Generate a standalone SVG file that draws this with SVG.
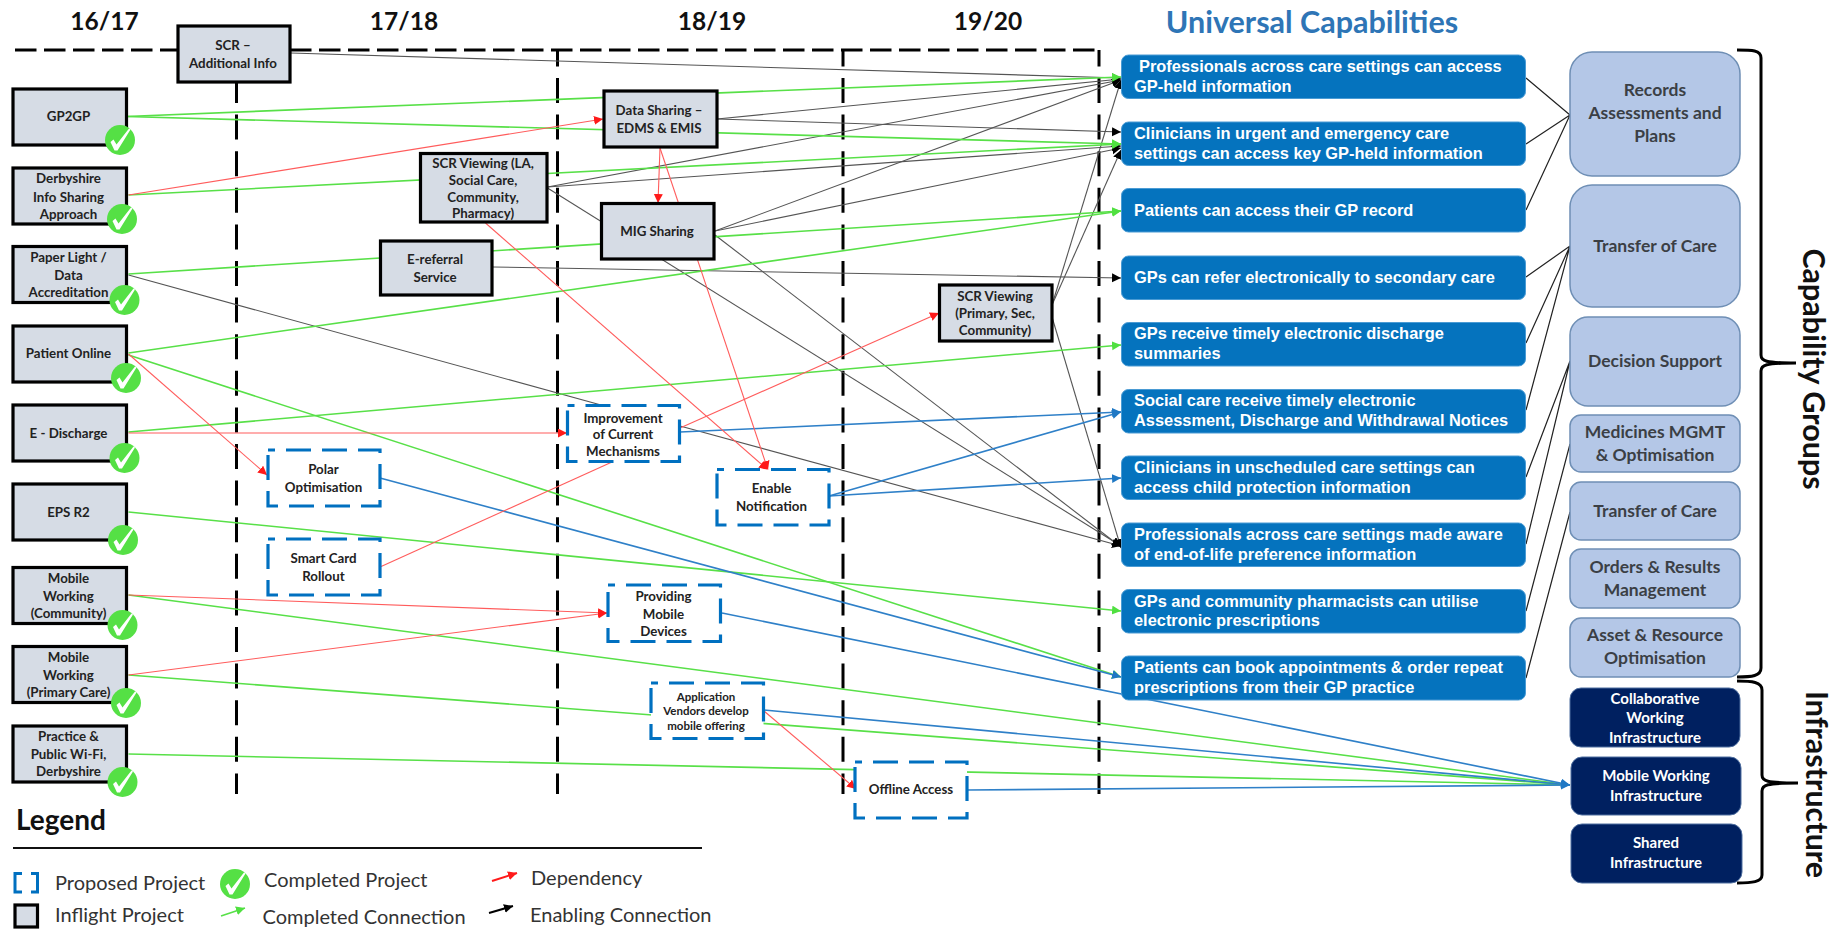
<svg xmlns="http://www.w3.org/2000/svg" width="1837" height="929" viewBox="0 0 1837 929">
<style>
text{font-family:Lato,"Liberation Sans",sans-serif;dominant-baseline:central}
.hd{font-size:24.500px;font-weight:700;fill:#111;text-anchor:middle}
.uc{font-size:30.500px;font-weight:700;fill:#2E75B6;text-anchor:middle}
.b{fill:#D6DCE5;stroke:#000;stroke-width:3.2}
.p{fill:#fff;stroke:#0070C0;stroke-width:3.2;stroke-dasharray:25 11;stroke-dashoffset:18}
.t{font-size:13.300px;font-weight:700;fill:#222;text-anchor:middle}
.u{fill:#0573BE;stroke:#4A9BD4;stroke-width:1}
.ut{font-family:"Liberation Sans",Arial,sans-serif;font-size:16.400px;font-weight:700;fill:#fff;transform:translateY(-1px)}
.c{fill:#B4C7E7;stroke:#6F8FB5;stroke-width:1.5}
.ct{font-size:17.500px;font-weight:700;fill:#3b3f45;text-anchor:middle;transform:translateY(-2px)}
.d{fill:#002060;stroke:#4F6FA0;stroke-width:1}
.dt{font-size:15px;font-weight:700;fill:#fff;text-anchor:middle;transform:translateY(-1px)}
.lg{font-size:20px;fill:#333}
.dh{fill:none;stroke:#000;stroke-width:3;stroke-dasharray:21.5 7.5}
.dv{fill:none;stroke:#000;stroke-width:3;stroke-dasharray:25 11.6;stroke-dashoffset:8.6}
.g{stroke:#58E048;stroke-width:1.6;fill:none}
.r{stroke:#FF5C5C;stroke-width:1.1;fill:none}
.k{stroke:#555;stroke-width:1.1;fill:none}
.l{stroke:#2F80C8;stroke-width:1.6;fill:none}
.m{stroke:#222;stroke-width:1.2;fill:none}
.ga{marker-end:url(#mg)}
.ra{marker-end:url(#mr)}
.ka{marker-end:url(#mk)}
.la{marker-end:url(#ml)}
.br{fill:none;stroke:#000;stroke-width:3}
.rot{font-size:30.500px;font-weight:700;fill:#111;text-anchor:middle}
</style>
<defs>
<marker id="mg" markerUnits="userSpaceOnUse" markerWidth="10" markerHeight="10" refX="9" refY="4.5" orient="auto"><path d="M0,0L9,4.5L0,9Z" fill="#50E040"/></marker>
<marker id="mr" markerUnits="userSpaceOnUse" markerWidth="10" markerHeight="10" refX="9" refY="4.5" orient="auto"><path d="M0,0L9,4.5L0,9Z" fill="#FF1A1A"/></marker>
<marker id="mk" markerUnits="userSpaceOnUse" markerWidth="10" markerHeight="10" refX="9" refY="4.5" orient="auto"><path d="M0,0L9,4.5L0,9Z" fill="#000"/></marker>
<marker id="ml" markerUnits="userSpaceOnUse" markerWidth="10" markerHeight="10" refX="9" refY="4.5" orient="auto"><path d="M0,0L9,4.5L0,9Z" fill="#1F78C4"/></marker>
<g id="ck"><circle r="15" fill="#55E045"/><path d="M-9.5,2L-6.5,-0.5L-3.5,4.5L9,-11.5L10.5,-10.5L-2.5,10.5L-5.5,10.5Z" fill="#fff"/></g>
</defs>

<g id="headers">
<text class="hd" x="104.5" y="20">16/17</text>
<text class="hd" x="404" y="20">17/18</text>
<text class="hd" x="712" y="20">18/19</text>
<text class="hd" x="988" y="20">19/20</text>
<text class="uc" x="1312" y="21">Universal Capabilities</text>
</g>

<g id="grid">
<path class="dh" d="M15,50H178M290,50H1100"/>
<path class="dv" d="M236.500,50V794"/>
<path class="dv" d="M557.500,50V794"/>
<path class="dv" d="M843,50V794"/>
<path class="dv" d="M1099,50V794"/>
</g>

<g id="connectors">
<path class="m" d="M1526,78L1570,115M1526,144L1570,115M1526,210L1570,115"/>
<path class="m" d="M1526,277L1570,246M1526,343L1570,246M1526,410L1570,246"/>
<path class="m" d="M1526,477L1570,361M1526,544L1570,361"/>
<path class="m" d="M1526,611L1570,444M1526,678L1570,512"/>
<path class="k ka" d="M290.500,53L1121,78"/>
<path class="k ka" d="M717,119L1121,79"/>
<path class="k ka" d="M717,119L1121,132"/>
<path class="k ka" d="M547.500,187L1121,80"/>
<path class="k ka" d="M547.500,187L1121,146"/>
<path class="k ka" d="M547.500,188L1121,546"/>
<path class="k ka" d="M715,231L1121,80"/>
<path class="k ka" d="M715,231L1121,148"/>
<path class="k ka" d="M715,235L1121,547"/>
<path class="k ka" d="M680,426L1121,546"/>
<path class="k" d="M128.500,275L601,405"/>
<path class="k ka" d="M493,267L1121,278"/>
<path class="k ka" d="M1052,305L1121,80"/>
<path class="k ka" d="M1052,305L1121,150"/>
<path class="k ka" d="M1052,317L1121,548"/>
<path class="g ga" d="M126,116.500L1121,77"/>
<path class="g ga" d="M126,116.500L1121,144"/>
<path class="g ga" d="M128.500,195L1121,144"/>
<path class="g ga" d="M128.500,274L1121,211"/>
<path class="g ga" d="M128.500,353L1121,211"/>
<path class="g ga" d="M128.500,355L1121,677"/>
<path class="g ga" d="M128.500,432L1121,345"/>
<path class="g ga" d="M128.500,512L1121,611"/>
<path class="g" d="M128.500,595L1570,785"/>
<path class="g" d="M128.500,675L1570,785"/>
<path class="g" d="M128.500,754L1570,785"/>
<path class="l la" d="M380,478L1121,677"/>
<path class="l la" d="M722,613L1570,785"/>
<path class="l la" d="M764,710L1570,785"/>
<path class="l la" d="M967,790L1570,785"/>
<path class="l la" d="M680,432L1121,412"/>
<path class="l la" d="M829,496L1121,412"/>
<path class="l la" d="M829,496L1121,478"/>
<path class="r ra" d="M128.500,195L603,119"/>
<path class="r ra" d="M128.500,354L267,475"/>
<path class="r ra" d="M128.500,433L567,433"/>
<path class="r ra" d="M660,148L658,203"/>
<path class="r ra" d="M660,148L768,470"/>
<path class="r ra" d="M485.500,223L768,470"/>
<path class="r" d="M380,567L612,462"/>
<path class="r ra" d="M680,428L939,313"/>
<path class="r ra" d="M128.500,595L607,613"/>
<path class="r ra" d="M128.500,675L607,613"/>
<path class="r ra" d="M764,711L856,789"/>
</g>

<g id="n-scr-add"><rect class="b" x="178" y="26" width="112" height="56"/><text class="t" x="233" y="44.500">SCR –</text><text class="t" x="233" y="63">Additional Info</text></g>
<g id="n-gp2gp"><rect class="b" x="13" y="89" width="113.500" height="56"/><text class="t" x="68.500" y="116">GP2GP</text><use href="#ck" x="120" y="140"/></g>
<g id="n-derbyshire"><rect class="b" x="13" y="168" width="113.500" height="56"/><text class="t" x="68.500" y="178">Derbyshire</text><text class="t" x="68.500" y="196.500">Info Sharing</text><text class="t" x="68.500" y="213.500">Approach</text><use href="#ck" x="122" y="219"/></g>
<g id="n-paper"><rect class="b" x="13" y="246.500" width="113.500" height="56"/><text class="t" x="68.500" y="257">Paper Light /</text><text class="t" x="68.500" y="275">Data</text><text class="t" x="68.500" y="292">Accreditation</text><use href="#ck" x="124.500" y="300"/></g>
<g id="n-patient"><rect class="b" x="13" y="326" width="113.500" height="56"/><text class="t" x="68.500" y="353">Patient Online</text><use href="#ck" x="126" y="378"/></g>
<g id="n-edischarge"><rect class="b" x="13" y="405" width="113.500" height="56"/><text class="t" x="68.500" y="433">E - Discharge</text><use href="#ck" x="124.500" y="458"/></g>
<g id="n-eps"><rect class="b" x="13" y="484" width="113.500" height="56"/><text class="t" x="68.500" y="512">EPS R2</text><use href="#ck" x="123" y="540"/></g>
<g id="n-mobc"><rect class="b" x="13" y="567.500" width="113.500" height="56"/><text class="t" x="68.500" y="578">Mobile</text><text class="t" x="68.500" y="596">Working</text><text class="t" x="68.500" y="613">(Community)</text><use href="#ck" x="122.500" y="625"/></g>
<g id="n-mobp"><rect class="b" x="13" y="646.500" width="113.500" height="56"/><text class="t" x="68.500" y="657">Mobile</text><text class="t" x="68.500" y="675">Working</text><text class="t" x="68.500" y="692">(Primary Care)</text><use href="#ck" x="126" y="703"/></g>
<g id="n-wifi"><rect class="b" x="13" y="726" width="113.500" height="56"/><text class="t" x="68.500" y="736">Practice &amp;</text><text class="t" x="68.500" y="754">Public Wi-Fi,</text><text class="t" x="68.500" y="771">Derbyshire</text><use href="#ck" x="122.500" y="782"/></g>

<g id="n-scr-la"><rect class="b" x="420.500" y="153.500" width="126.500" height="68.500"/><text class="t" x="483" y="163">SCR Viewing (LA,</text><text class="t" x="483" y="180">Social Care,</text><text class="t" x="483" y="197">Community,</text><text class="t" x="483" y="213">Pharmacy)</text></g>
<g id="n-eref"><rect class="b" x="380.500" y="241" width="111.500" height="54"/><text class="t" x="435" y="259">E-referral</text><text class="t" x="435" y="277">Service</text></g>
<g id="n-polar"><rect class="p" x="268" y="450" width="112" height="56"/><text class="t" x="323.500" y="469">Polar</text><text class="t" x="323.500" y="487">Optimisation</text></g>
<g id="n-smart"><rect class="p" x="268" y="539" width="112" height="56"/><text class="t" x="323.500" y="558">Smart Card</text><text class="t" x="323.500" y="576">Rollout</text></g>
<g id="n-improve"><rect class="p" x="567.500" y="405.500" width="112" height="56"/><text class="t" x="623" y="418">Improvement</text><text class="t" x="623" y="434">of Current</text><text class="t" x="623" y="451">Mechanisms</text></g>
<g id="n-data"><rect class="b" x="604" y="91" width="113" height="56"/><text class="t" x="659" y="110">Data Sharing –</text><text class="t" x="659" y="128">EDMS &amp; EMIS</text></g>
<g id="n-mig"><rect class="b" x="601.500" y="203.500" width="112.500" height="55.500"/><text class="t" x="657" y="231">MIG Sharing</text></g>
<g id="n-scr-p"><rect class="b" x="939.500" y="285" width="112.500" height="56"/><text class="t" x="995" y="296">SCR Viewing</text><text class="t" x="995" y="313">(Primary, Sec,</text><text class="t" x="995" y="330">Community)</text></g>
<g id="n-enable"><rect class="p" x="717" y="469.500" width="112" height="55.500"/><text class="t" x="771.500" y="488">Enable</text><text class="t" x="771.500" y="506">Notification</text></g>
<g id="n-provide"><rect class="p" x="608" y="585" width="112.500" height="56.500"/><text class="t" x="663.500" y="596">Providing</text><text class="t" x="663.500" y="614">Mobile</text><text class="t" x="663.500" y="631">Devices</text></g>
<g id="n-app"><rect class="p" x="651" y="683" width="112.500" height="55.500"/><text class="t" style="font-size:11.500px" x="706" y="696">Application</text><text class="t" style="font-size:11.500px" x="706" y="710">Vendors develop</text><text class="t" style="font-size:11.500px" x="706" y="725">mobile offering</text></g>
<g id="n-offline"><rect class="p" x="855" y="762" width="112" height="56"/><text class="t" x="911" y="789">Offline Access</text></g>

<g id="u1"><rect class="u" x="1121.500" y="55" width="404" height="43.500" rx="7"/><text class="ut" x="1139" y="67">Professionals across care settings can access</text><text class="ut" x="1134" y="87">GP-held information</text></g>
<g id="u2"><rect class="u" x="1121.500" y="122" width="404" height="43.500" rx="7"/><text class="ut" x="1134" y="134">Clinicians in urgent and emergency care</text><text class="ut" x="1134" y="154">settings can access key GP-held information</text></g>
<g id="u3"><rect class="u" x="1121.500" y="188.500" width="404" height="43.500" rx="7"/><text class="ut" x="1134" y="211">Patients can access their GP record</text></g>
<g id="u4"><rect class="u" x="1121.500" y="256" width="404" height="43.500" rx="7"/><text class="ut" x="1134" y="278">GPs can refer electronically to secondary care</text></g>
<g id="u5"><rect class="u" x="1121.500" y="322.500" width="404" height="43.500" rx="7"/><text class="ut" x="1134" y="334">GPs receive timely electronic discharge</text><text class="ut" x="1134" y="354">summaries</text></g>
<g id="u6"><rect class="u" x="1121.500" y="389.500" width="404" height="43.500" rx="7"/><text class="ut" x="1134" y="401">Social care receive timely electronic</text><text class="ut" x="1134" y="421">Assessment, Discharge and Withdrawal Notices</text></g>
<g id="u7"><rect class="u" x="1121.500" y="456" width="404" height="43.500" rx="7"/><text class="ut" x="1134" y="468">Clinicians in unscheduled care settings can</text><text class="ut" x="1134" y="488">access child protection information</text></g>
<g id="u8"><rect class="u" x="1121.500" y="523" width="404" height="43.500" rx="7"/><text class="ut" x="1134" y="535">Professionals across care settings made aware</text><text class="ut" x="1134" y="555">of end-of-life preference information</text></g>
<g id="u9"><rect class="u" x="1121.500" y="589.500" width="404" height="43.500" rx="7"/><text class="ut" x="1134" y="602">GPs and community pharmacists can utilise</text><text class="ut" x="1134" y="621">electronic prescriptions</text></g>
<g id="u10"><rect class="u" x="1121.500" y="656" width="404" height="44" rx="7"/><text class="ut" x="1134" y="668">Patients can book appointments &amp; order repeat</text><text class="ut" x="1134" y="688">prescriptions from their GP practice</text></g>

<g id="c-records"><rect class="c" x="1570" y="52" width="170" height="124" rx="22"/><text class="ct" x="1655" y="91">Records</text><text class="ct" x="1655" y="114">Assessments and</text><text class="ct" x="1655" y="137">Plans</text></g>
<g id="c-toc"><rect class="c" x="1570" y="185" width="170" height="122" rx="22"/><text class="ct" x="1655" y="247">Transfer of Care</text></g>
<g id="c-decision"><rect class="c" x="1570" y="317" width="170" height="89" rx="18"/><text class="ct" x="1655" y="362">Decision Support</text></g>
<g id="c-meds"><rect class="c" x="1570" y="415" width="170" height="57" rx="11"/><text class="ct" x="1655" y="433">Medicines MGMT</text><text class="ct" x="1655" y="456">&amp; Optimisation</text></g>
<g id="c-toc2"><rect class="c" x="1570" y="482" width="170" height="58" rx="11"/><text class="ct" x="1655" y="512">Transfer of Care</text></g>
<g id="c-orders"><rect class="c" x="1570" y="549" width="170" height="59" rx="11"/><text class="ct" x="1655" y="568">Orders &amp; Results</text><text class="ct" x="1655" y="591">Management</text></g>
<g id="c-asset"><rect class="c" x="1570" y="618" width="170" height="59" rx="11"/><text class="ct" x="1655" y="636">Asset &amp; Resource</text><text class="ct" x="1655" y="659">Optimisation</text></g>
<g id="i-collab"><rect class="d" x="1570" y="688" width="170" height="59" rx="11"/><text class="dt" x="1655" y="699">Collaborative</text><text class="dt" x="1655" y="718">Working</text><text class="dt" x="1655" y="738">Infrastructure</text></g>
<g id="i-mobile"><rect class="d" x="1571" y="757" width="170" height="58" rx="11"/><text class="dt" x="1656" y="776">Mobile Working</text><text class="dt" x="1656" y="796">Infrastructure</text></g>
<g id="i-shared"><rect class="d" x="1571" y="824" width="171" height="59" rx="11"/><text class="dt" x="1656" y="843">Shared</text><text class="dt" x="1656" y="863">Infrastructure</text></g>

<g id="braces">
<path class="br" d="M1737,50C1752,50 1761,50 1761,58L1761,355C1761,361 1765,363 1796,363C1765,363 1761,365 1761,371L1761,668C1761,676 1752,677 1737,677"/>
<path class="br" d="M1737,681C1752,681 1762,682 1762,690L1762,775C1762,781 1766,783 1798,783C1766,783 1762,785 1762,791L1762,875C1762,882 1752,883 1737,883"/>
<text class="rot" transform="translate(1815,369) rotate(90)">Capability Groups</text>
<text class="rot" transform="translate(1818,784.500) rotate(90)">Infrastructure</text>
</g>

<g id="legend">
<text x="16" y="819" style="font-size:28px;font-weight:700;fill:#111">Legend</text>
<path d="M13,848H702" stroke="#111" stroke-width="2" fill="none"/>
<path d="M22,873.500H15V892H22M31,873.500H37.500V892H31" fill="none" stroke="#0070C0" stroke-width="3"/>
<rect class="b" x="15" y="905" width="22.500" height="22"/>
<text class="lg" x="55" y="882">Proposed Project</text>
<text class="lg" x="55" y="914">Inflight Project</text>
<use href="#ck" x="235" y="884"/>
<text class="lg" x="264" y="879">Completed Project</text>
<path class="g ga" d="M221,916L245,908"/>
<text class="lg" x="262.500" y="916">Completed Connection</text>
<path class="r ra" style="stroke:#FF1A1A;stroke-width:2" d="M492,881L517,873"/>
<text class="lg" x="531" y="877">Dependency</text>
<path class="k ka" style="stroke:#000;stroke-width:2" d="M489,913L513,906"/>
<text class="lg" x="530" y="914">Enabling Connection</text>
</g>
</svg>
